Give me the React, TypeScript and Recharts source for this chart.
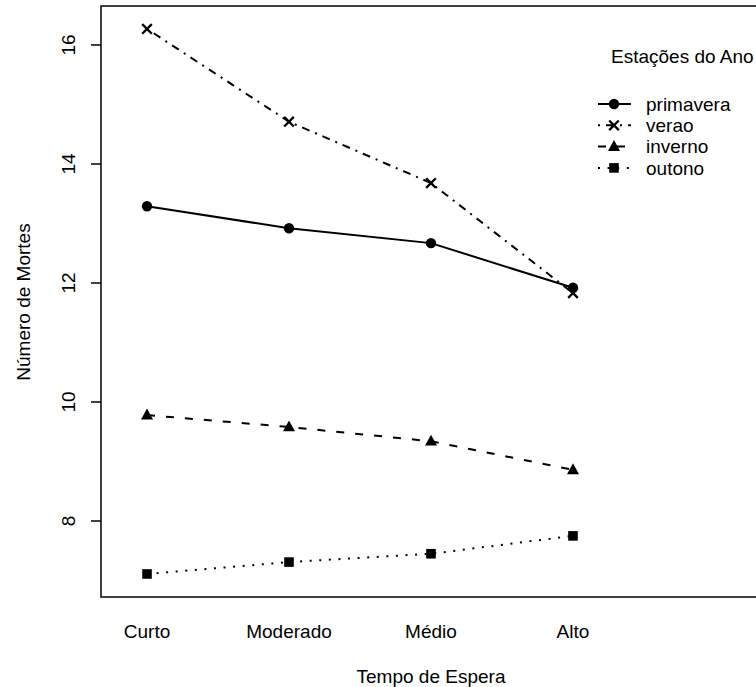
import React from 'react';
import { LineChart, Line, XAxis, YAxis, ReferenceArea, Legend } from 'recharts';

const categories = ['Curto', 'Moderado', 'Médio', 'Alto'];
const primavera = [13.29, 12.92, 12.67, 11.92];
const verao = [16.27, 14.71, 13.68, 11.83];
const inverno = [9.78, 9.58, 9.34, 8.86];
const outono = [7.11, 7.31, 7.45, 7.75];
const yTicks = [8, 10, 12, 14, 16];

const FONT = '"Liberation Sans", Arial, Helvetica, sans-serif';
const FS = 19;
const PLOT_BOTTOM = 597;
const X_MIN = 0.676;
const X_MAX = 6.303;
const Y_MIN = 6.723;
const Y_MAX = 16.655;

const data = categories.map((name, i) => ({
  x: i + 1,
  name,
  primavera: primavera[i],
  verao: verao[i],
  inverno: inverno[i],
  outono: outono[i],
}));

type Sym = 'circle' | 'cross' | 'triangle' | 'square';

const drawSymbol = (kind: Sym, cx: number, cy: number, key?: string) => {
  if (kind === 'circle') return <circle key={key} cx={cx} cy={cy} r={5.2} fill="#000" />;
  if (kind === 'cross')
    return (
      <g key={key} stroke="#000" strokeWidth={2.3}>
        <line x1={cx - 4.8} y1={cy - 4.8} x2={cx + 4.8} y2={cy + 4.8} />
        <line x1={cx - 4.8} y1={cy + 4.8} x2={cx + 4.8} y2={cy - 4.8} />
      </g>
    );
  if (kind === 'triangle')
    return <polygon key={key} points={`${cx},${cy - 6.5} ${cx - 6},${cy + 4.3} ${cx + 6},${cy + 4.3}`} fill="#000" />;
  return <rect key={key} x={cx - 4.8} y={cy - 4.8} width={9.6} height={9.6} fill="#000" />;
};

const series: { key: string; label: string; dash?: string; sym: Sym }[] = [
  { key: 'primavera', label: 'primavera', sym: 'circle' },
  { key: 'verao', label: 'verao', dash: '2 6 8 6', sym: 'cross' },
  { key: 'inverno', label: 'inverno', dash: '8 11', sym: 'triangle' },
  { key: 'outono', label: 'outono', dash: '2 7.6', sym: 'square' },
];

const LegendBox = () => (
  <svg width={166} height={150} style={{ fontFamily: FONT }}>
    <text x={21} y={28} fontSize={FS} fill="#000">Estações do Ano</text>
    {series.map((s, i) => {
      const cy = 69 + i * 21.3;
      return (
        <g key={s.key}>
          <line x1={8} y1={cy} x2={41} y2={cy} stroke="#000" strokeWidth={2} strokeDasharray={s.dash} />
          {drawSymbol(s.sym, 24, cy)}
          <text x={56} y={cy} dy="0.35em" fontSize={FS} fill="#000">{s.label}</text>
        </g>
      );
    })}
  </svg>
);

const XTick = (props: any) => {
  const { x, payload } = props;
  return (
    <text x={x} y={PLOT_BOTTOM + 41} textAnchor="middle" fontSize={FS} fill="#000" fontFamily={FONT}>
      {categories[payload.value - 1]}
    </text>
  );
};

const YTick = (props: any) => {
  const { y, payload } = props;
  return (
    <text x={75} y={y} textAnchor="middle" transform={`rotate(-90, 75, ${y})`} fontSize={FS} fill="#000" fontFamily={FONT}>
      {payload.value}
    </text>
  );
};

export default function App() {
  return (
    <div style={{ position: 'absolute', left: 0, top: 0, width: 756, height: 687, overflow: 'hidden', background: '#fff' }}>
      <LineChart width={900} height={687} data={data} margin={{ top: 6, right: 0, bottom: 0, left: 0 }}>
        <XAxis
          dataKey="x"
          type="number"
          domain={[X_MIN, X_MAX]}
          ticks={[1, 2, 3, 4]}
          allowDataOverflow
          height={90}
          axisLine={false}
          tickLine={false}
          tick={<XTick />}
          label={{
            content: () => (
              <text x={431} y={683} textAnchor="middle" fontSize={FS} fill="#000" fontFamily={FONT}>
                Tempo de Espera
              </text>
            ),
          }}
        />
        <YAxis
          type="number"
          domain={[Y_MIN, Y_MAX]}
          ticks={yTicks}
          allowDataOverflow
          width={101}
          axisLine={false}
          tickLine={{ stroke: '#000', strokeWidth: 1.5 }}
          tickSize={10}
          tick={<YTick />}
          label={{
            content: () => (
              <text x={30} y={302} textAnchor="middle" transform="rotate(-90, 30, 302)" fontSize={FS} fill="#000" fontFamily={FONT}>
                Número de Mortes
              </text>
            ),
          }}
        />
        <ReferenceArea x1={X_MIN} x2={X_MAX} y1={Y_MIN} y2={Y_MAX} fill="none" stroke="#000" strokeWidth={1.5} />
        <Legend
          layout="horizontal"
          verticalAlign="middle"
          align="center"
          content={() => <LegendBox />}
          wrapperStyle={{ position: 'absolute', left: 590, top: 35, width: 166, height: 150 }}
        />
        {series.map((s) => (
          <Line
            key={s.key}
            dataKey={s.key}
            stroke="#000"
            strokeWidth={2}
            strokeDasharray={s.dash}
            isAnimationActive={false}
            dot={(p: any) => drawSymbol(s.sym, p.cx, p.cy, `${s.key}-${p.index}`)}
            activeDot={false}
          />
        ))}
      </LineChart>
    </div>
  );
}
